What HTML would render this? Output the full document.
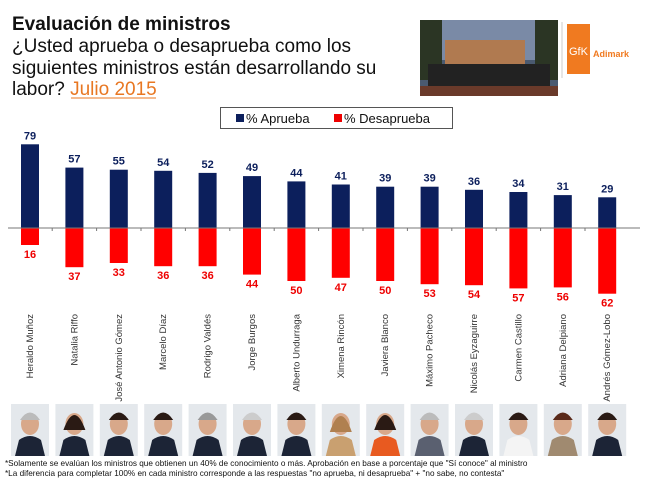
<!DOCTYPE html>
<html><head><meta charset="utf-8"><style>
body{margin:0;width:649px;height:479px;background:#fff;overflow:hidden;font-family:"Liberation Sans",sans-serif;}
</style></head><body>
<svg width="649" height="479" xmlns="http://www.w3.org/2000/svg" font-family="Liberation Sans, sans-serif">
<defs>
<g id="ph">
<rect x="-19" y="404" width="38" height="52" fill="#e4e8ec"/>
<ellipse cx="0" cy="424" rx="9" ry="11" fill="#d8a88a"/>
</g>
</defs>
<text x="12" y="30" font-size="19" font-weight="bold" fill="#111">Evaluación de ministros</text>
<text x="12" y="52" font-size="19" fill="#111">¿Usted aprueba o desaprueba como los</text>
<text x="12" y="74" font-size="19" fill="#111">siguientes ministros están desarrollando su</text>
<text x="12" y="95" font-size="19" fill="#111">labor? <tspan fill="#e87722">Julio 2015</tspan></text>
<line x1="71" y1="98" x2="156" y2="98" stroke="#e87722" stroke-width="1"/>
<rect x="420" y="20" width="138" height="76" fill="#4a5a70"/>
<rect x="420" y="20" width="138" height="40" fill="#7a8aa6"/>
<rect x="445" y="40" width="80" height="35" fill="#b07a50"/>
<rect x="420" y="20" width="22" height="60" fill="#2b3524"/>
<rect x="535" y="20" width="23" height="60" fill="#2b3524"/>
<rect x="428" y="64" width="122" height="22" fill="#222"/>
<rect x="420" y="86" width="138" height="10" fill="#6a3a2a"/>
<line x1="562" y1="22" x2="562" y2="78" stroke="#ccc"/>
<rect x="567" y="24" width="23" height="50" fill="#f07a20"/>
<text x="569" y="55" font-size="11" fill="#fff">GfK</text>
<text x="593" y="57" font-size="9" font-weight="bold" fill="#f07a20">Adimark</text>
<rect x="220.5" y="107.5" width="232" height="21" fill="#fff" stroke="#555"/>
<rect x="236" y="114" width="8" height="8" fill="#0c1f5c"/>
<text x="246" y="123" font-size="13" fill="#111">% Aprueba</text>
<rect x="334" y="114" width="8" height="8" fill="#e00"/>
<text x="344" y="123" font-size="13" fill="#111">% Desaprueba</text>

<g font-weight="bold" font-size="11" text-anchor="middle">
<g transform="translate(30,0)"><rect x="-9" y="144.3" width="18" height="83.7" fill="#0c1f5c"/><rect x="-9" y="228" width="18" height="17" fill="#f00"/><text y="139.3" fill="#0c1f5c">79</text><text y="258" fill="#e00">16</text></g>
<g transform="translate(74.4,0)"><rect x="-9" y="167.6" width="18" height="60.4" fill="#0c1f5c"/><rect x="-9" y="228" width="18" height="39.2" fill="#f00"/><text y="162.6" fill="#0c1f5c">57</text><text y="280.2" fill="#e00">37</text></g>
<g transform="translate(118.8,0)"><rect x="-9" y="169.7" width="18" height="58.3" fill="#0c1f5c"/><rect x="-9" y="228" width="18" height="35" fill="#f00"/><text y="164.7" fill="#0c1f5c">55</text><text y="276" fill="#e00">33</text></g>
<g transform="translate(163.2,0)"><rect x="-9" y="170.8" width="18" height="57.2" fill="#0c1f5c"/><rect x="-9" y="228" width="18" height="38.2" fill="#f00"/><text y="165.8" fill="#0c1f5c">54</text><text y="279.2" fill="#e00">36</text></g>
<g transform="translate(207.6,0)"><rect x="-9" y="172.9" width="18" height="55.1" fill="#0c1f5c"/><rect x="-9" y="228" width="18" height="38.2" fill="#f00"/><text y="167.9" fill="#0c1f5c">52</text><text y="279.2" fill="#e00">36</text></g>
<g transform="translate(252,0)"><rect x="-9" y="176.1" width="18" height="51.9" fill="#0c1f5c"/><rect x="-9" y="228" width="18" height="46.6" fill="#f00"/><text y="171.1" fill="#0c1f5c">49</text><text y="287.6" fill="#e00">44</text></g>
<g transform="translate(296.4,0)"><rect x="-9" y="181.4" width="18" height="46.6" fill="#0c1f5c"/><rect x="-9" y="228" width="18" height="53" fill="#f00"/><text y="176.4" fill="#0c1f5c">44</text><text y="294" fill="#e00">50</text></g>
<g transform="translate(340.8,0)"><rect x="-9" y="184.5" width="18" height="43.5" fill="#0c1f5c"/><rect x="-9" y="228" width="18" height="49.8" fill="#f00"/><text y="179.5" fill="#0c1f5c">41</text><text y="290.8" fill="#e00">47</text></g>
<g transform="translate(385.2,0)"><rect x="-9" y="186.7" width="18" height="41.3" fill="#0c1f5c"/><rect x="-9" y="228" width="18" height="53" fill="#f00"/><text y="181.7" fill="#0c1f5c">39</text><text y="294" fill="#e00">50</text></g>
<g transform="translate(429.6,0)"><rect x="-9" y="186.7" width="18" height="41.3" fill="#0c1f5c"/><rect x="-9" y="228" width="18" height="56.2" fill="#f00"/><text y="181.7" fill="#0c1f5c">39</text><text y="297.2" fill="#e00">53</text></g>
<g transform="translate(474,0)"><rect x="-9" y="189.8" width="18" height="38.2" fill="#0c1f5c"/><rect x="-9" y="228" width="18" height="57.2" fill="#f00"/><text y="184.8" fill="#0c1f5c">36</text><text y="298.2" fill="#e00">54</text></g>
<g transform="translate(518.4,0)"><rect x="-9" y="192" width="18" height="36" fill="#0c1f5c"/><rect x="-9" y="228" width="18" height="60.4" fill="#f00"/><text y="187" fill="#0c1f5c">34</text><text y="301.4" fill="#e00">57</text></g>
<g transform="translate(562.8,0)"><rect x="-9" y="195.1" width="18" height="32.9" fill="#0c1f5c"/><rect x="-9" y="228" width="18" height="59.4" fill="#f00"/><text y="190.1" fill="#0c1f5c">31</text><text y="300.4" fill="#e00">56</text></g>
<g transform="translate(607.2,0)"><rect x="-9" y="197.3" width="18" height="30.7" fill="#0c1f5c"/><rect x="-9" y="228" width="18" height="65.7" fill="#f00"/><text y="192.3" fill="#0c1f5c">29</text><text y="306.7" fill="#e00">62</text></g>
</g>
<line x1="8" y1="228" x2="640" y2="228" stroke="#777" stroke-width="1"/>
<path d="M52.2 228v3M96.6 228v3M141 228v3M185.4 228v3M229.8 228v3M274.2 228v3M318.6 228v3M363 228v3M407.4 228v3M451.8 228v3M496.2 228v3M540.6 228v3M585 228v3" stroke="#777"/>

<g font-size="9.5" fill="#333" text-anchor="end">
<text transform="translate(33,314) rotate(-90)">Heraldo Muñoz</text>
<text transform="translate(77.4,314) rotate(-90)">Natalia Riffo</text>
<text transform="translate(121.8,314) rotate(-90)">José Antonio Gómez</text>
<text transform="translate(166.2,314) rotate(-90)">Marcelo Díaz</text>
<text transform="translate(210.6,314) rotate(-90)">Rodrigo Valdés</text>
<text transform="translate(255,314) rotate(-90)">Jorge Burgos</text>
<text transform="translate(299.4,314) rotate(-90)">Alberto Undurraga</text>
<text transform="translate(343.8,314) rotate(-90)">Ximena Rincón</text>
<text transform="translate(388.2,314) rotate(-90)">Javiera Blanco</text>
<text transform="translate(432.6,314) rotate(-90)">Máximo Pacheco</text>
<text transform="translate(477,314) rotate(-90)">Nicolás Eyzaguirre</text>
<text transform="translate(521.4,314) rotate(-90)">Carmen Castillo</text>
<text transform="translate(565.8,314) rotate(-90)">Adriana Delpiano</text>
<text transform="translate(610.2,314) rotate(-90)">Andrés Gómez-Lobo</text>
</g>

<g>
<g transform="translate(30,0)"><use href="#ph"/><path d="M-15 456 L-11 440 Q0 432 11 440 L15 456Z" fill="#1c2436"/><path d="M-10 420 Q0 405 10 420Z" fill="#bbb"/></g>
<g transform="translate(74.4,0)"><use href="#ph"/><path d="M-15 456 L-11 440 Q0 432 11 440 L15 456Z" fill="#1c2436"/><path d="M-11 430 Q0 400 11 430Z" fill="#2a1a14"/></g>
<g transform="translate(118.8,0)"><use href="#ph"/><path d="M-15 456 L-11 440 Q0 432 11 440 L15 456Z" fill="#1c2436"/><path d="M-10 420 Q0 405 10 420Z" fill="#2a1a14"/></g>
<g transform="translate(163.2,0)"><use href="#ph"/><path d="M-15 456 L-11 440 Q0 432 11 440 L15 456Z" fill="#1c2436"/><path d="M-10 420 Q0 405 10 420Z" fill="#2a1a14"/></g>
<g transform="translate(207.6,0)"><use href="#ph"/><path d="M-15 456 L-11 440 Q0 432 11 440 L15 456Z" fill="#1c2436"/><path d="M-10 420 Q0 405 10 420Z" fill="#999"/></g>
<g transform="translate(252,0)"><use href="#ph"/><path d="M-15 456 L-11 440 Q0 432 11 440 L15 456Z" fill="#1c2436"/><path d="M-10 420 Q0 405 10 420Z" fill="#ccc"/></g>
<g transform="translate(296.4,0)"><use href="#ph"/><path d="M-15 456 L-11 440 Q0 432 11 440 L15 456Z" fill="#1c2436"/><path d="M-10 420 Q0 405 10 420Z" fill="#2a1a14"/></g>
<g transform="translate(340.8,0)"><use href="#ph"/><path d="M-15 456 L-11 440 Q0 432 11 440 L15 456Z" fill="#c9a070"/><path d="M-11 432 Q0 400 11 432Z" fill="#b08050"/></g>
<g transform="translate(385.2,0)"><use href="#ph"/><path d="M-15 456 L-11 440 Q0 432 11 440 L15 456Z" fill="#e85a20"/><path d="M-11 430 Q0 400 11 430Z" fill="#2a1a14"/></g>
<g transform="translate(429.6,0)"><use href="#ph"/><path d="M-15 456 L-11 440 Q0 432 11 440 L15 456Z" fill="#5a6070"/><path d="M-10 420 Q0 405 10 420Z" fill="#bbb"/></g>
<g transform="translate(474,0)"><use href="#ph"/><path d="M-15 456 L-11 440 Q0 432 11 440 L15 456Z" fill="#1c2436"/><path d="M-10 420 Q0 405 10 420Z" fill="#ccc"/></g>
<g transform="translate(518.4,0)"><use href="#ph"/><path d="M-15 456 L-11 440 Q0 432 11 440 L15 456Z" fill="#f4f4f4"/><path d="M-10 420 Q0 405 10 420Z" fill="#2a1a14"/></g>
<g transform="translate(562.8,0)"><use href="#ph"/><path d="M-15 456 L-11 440 Q0 432 11 440 L15 456Z" fill="#a08a70"/><path d="M-10 420 Q0 405 10 420Z" fill="#5a2a1a"/></g>
<g transform="translate(607.2,0)"><use href="#ph"/><path d="M-15 456 L-11 440 Q0 432 11 440 L15 456Z" fill="#1c2436"/><path d="M-10 420 Q0 405 10 420Z" fill="#2a1a14"/></g>
</g>

<text x="5" y="466" font-size="8.2" fill="#111">*Solamente se evalúan los ministros que obtienen un 40% de conocimiento o más. Aprobación en base a porcentaje que "Sí conoce" al ministro</text>
<text x="5" y="476" font-size="8.2" fill="#111">*La diferencia para completar 100% en cada ministro corresponde a las respuestas "no aprueba, ni desaprueba" + "no sabe, no contesta"</text>
</svg>
</body></html>
